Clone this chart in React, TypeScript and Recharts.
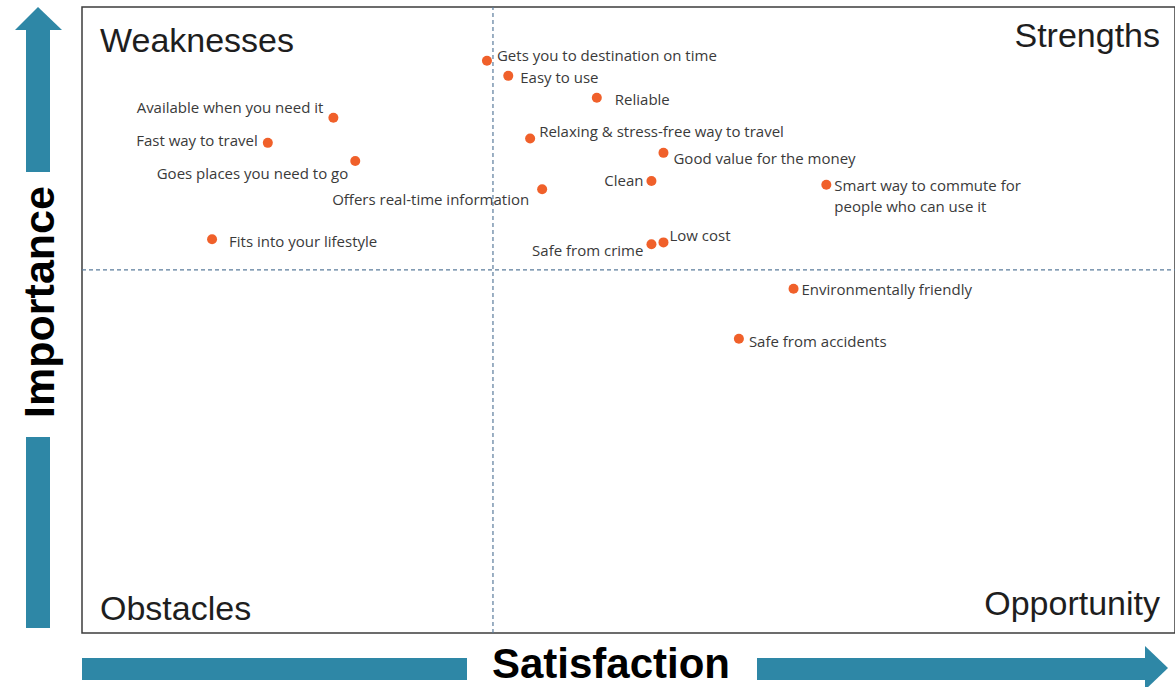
import React from "react";
import {
  ScatterChart,
  Scatter,
  XAxis,
  YAxis,
  ReferenceLine,
  ReferenceArea,
} from "recharts";

// ---- data ----
const ATTRIBUTES: string[] = [
  "Gets you to destination on time",
  "Easy to use",
  "Reliable",
  "Available when you need it",
  "Fast way to travel",
  "Relaxing & stress-free way to travel",
  "Goes places you need to go",
  "Good value for the money",
  "Clean",
  "Offers real-time information",
  "Smart way to commute for\npeople who can use it",
  "Fits into your lifestyle",
  "Safe from crime",
  "Low cost",
  "Environmentally friendly",
  "Safe from accidents",
];
const SATISFACTION: number[] = [37.05, 39.0, 47.1, 23.0, 17.0, 41.0, 25.0, 53.2, 52.1, 42.1, 68.1, 11.9, 52.1, 53.2, 65.1, 60.1];
const IMPORTANCE: number[] = [91.4, 89.0, 85.5, 82.3, 78.3, 79.0, 75.4, 76.7, 72.2, 70.9, 71.6, 62.9, 62.1, 62.4, 55.0, 47.0];
const SATISFACTION_MID = 37.6;
const IMPORTANCE_MID = 58.0;
const QUADRANTS = ["Weaknesses", "Strengths", "Obstacles", "Opportunity"];
const AXIS_TITLES = { x: "Satisfaction", y: "Importance" };

// ---- label placement (style, kept apart from data) ----
type Place = { anchor: "start" | "end"; dx: number; dy: number };
const LABEL_PLACE: Place[] = [
  { anchor: "start", dx: 10, dy: -6 },
  { anchor: "start", dx: 12, dy: 1 },
  { anchor: "start", dx: 18, dy: 1 },
  { anchor: "end", dx: -10, dy: -11 },
  { anchor: "end", dx: -10, dy: -3 },
  { anchor: "start", dx: 9, dy: -7 },
  { anchor: "end", dx: -7, dy: 12 },
  { anchor: "start", dx: 10, dy: 5 },
  { anchor: "end", dx: -8, dy: -1 },
  { anchor: "end", dx: -13, dy: 10 },
  { anchor: "start", dx: 8, dy: 0 },
  { anchor: "start", dx: 17, dy: 2 },
  { anchor: "end", dx: -8, dy: 6 },
  { anchor: "start", dx: 6, dy: -7 },
  { anchor: "start", dx: 8, dy: 0 },
  { anchor: "start", dx: 10, dy: 2 },
];

const points = ATTRIBUTES.map((name, i) => ({
  name,
  idx: i,
  satisfaction: SATISFACTION[i],
  importance: IMPORTANCE[i],
}));

const W = 1175;
const H = 687;
const DOT = "#f0602a";
const ARROW = "#2e87a6";
const LABEL_FONT = "'Open Sans', 'Noto Sans', sans-serif";
const TITLE_FONT = "'Liberation Sans', Arial, sans-serif";

const PointShape = (props: any) => {
  const { cx, cy, payload } = props;
  if (cx == null || cy == null) return null;
  const p = LABEL_PLACE[payload.idx];
  const lines = String(payload.name).split("\n");
  return (
    <g>
      <circle cx={cx} cy={cy} r={5} fill={DOT} />
      {lines.map((ln, k) => (
        <text
          key={k}
          x={cx + p.dx}
          y={cy + p.dy + k * 21}
          textAnchor={p.anchor}
          dominantBaseline="central"
          fontFamily={LABEL_FONT}
          fontSize={15}
          fill="#3a3a3a"
        >
          {ln}
        </text>
      ))}
    </g>
  );
};

export default function App() {
  return (
    <div style={{ position: "absolute", left: 0, top: 0, width: W, height: H, background: "#fff" }}>
      <ScatterChart
        width={W}
        height={H}
        margin={{ top: 7, right: 0, bottom: 54, left: 82 }}
      >
        <XAxis type="number" dataKey="satisfaction" domain={[0, 100]} hide />
        <YAxis type="number" dataKey="importance" domain={[0, 100]} hide />
        <ReferenceArea
          x1={0}
          x2={100}
          y1={0}
          y2={100}
          fill="#fff"
          fillOpacity={0}
          stroke="#3c3c3c"
          strokeWidth={1.5}
          ifOverflow="visible"
        />
        <ReferenceLine x={SATISFACTION_MID} stroke="#5b7c9c" strokeDasharray="4 3" strokeWidth={1.2} />
        <ReferenceLine y={IMPORTANCE_MID} stroke="#5b7c9c" strokeDasharray="4 3" strokeWidth={1.2} />
        <Scatter data={points} shape={PointShape} isAnimationActive={false} />
      </ScatterChart>
      <svg
        width={W}
        height={H}
        style={{ position: "absolute", left: 0, top: 0, pointerEvents: "none" }}
      >
        {/* quadrant titles */}
        <text x={100} y={52} fontFamily={TITLE_FONT} fontSize={34} fill="#1e1e1e">
          {QUADRANTS[0]}
        </text>
        <text x={1160} y={47} textAnchor="end" fontFamily={TITLE_FONT} fontSize={34} fill="#1e1e1e">
          {QUADRANTS[1]}
        </text>
        <text x={100} y={620} fontFamily={TITLE_FONT} fontSize={34} fill="#1e1e1e">
          {QUADRANTS[2]}
        </text>
        <text x={1160} y={615} textAnchor="end" fontFamily={TITLE_FONT} fontSize={34} fill="#1e1e1e">
          {QUADRANTS[3]}
        </text>

        {/* vertical arrow */}
        <polygon points="38,7 15,30 62,30" fill={ARROW} />
        <rect x={26} y={29} width={24} height={143} fill={ARROW} />
        <rect x={26} y={437} width={24} height={191} fill={ARROW} />
        <text
          x={54}
          y={302}
          transform="rotate(-90, 54, 302)"
          textAnchor="middle"
          fontFamily={TITLE_FONT}
          fontWeight="bold"
          fontSize={43}
          fill="#000"
        >
          {AXIS_TITLES.y}
        </text>

        {/* horizontal arrow */}
        <rect x={82} y={658} width={385} height={22} fill={ARROW} />
        <rect x={757} y={658} width={390} height={22} fill={ARROW} />
        <polygon points="1145,646 1168,668 1145,690" fill={ARROW} />
        <text
          x={611}
          y={678}
          textAnchor="middle"
          fontFamily={TITLE_FONT}
          fontWeight="bold"
          fontSize={42}
          fill="#000"
        >
          {AXIS_TITLES.x}
        </text>
      </svg>
    </div>
  );
}
